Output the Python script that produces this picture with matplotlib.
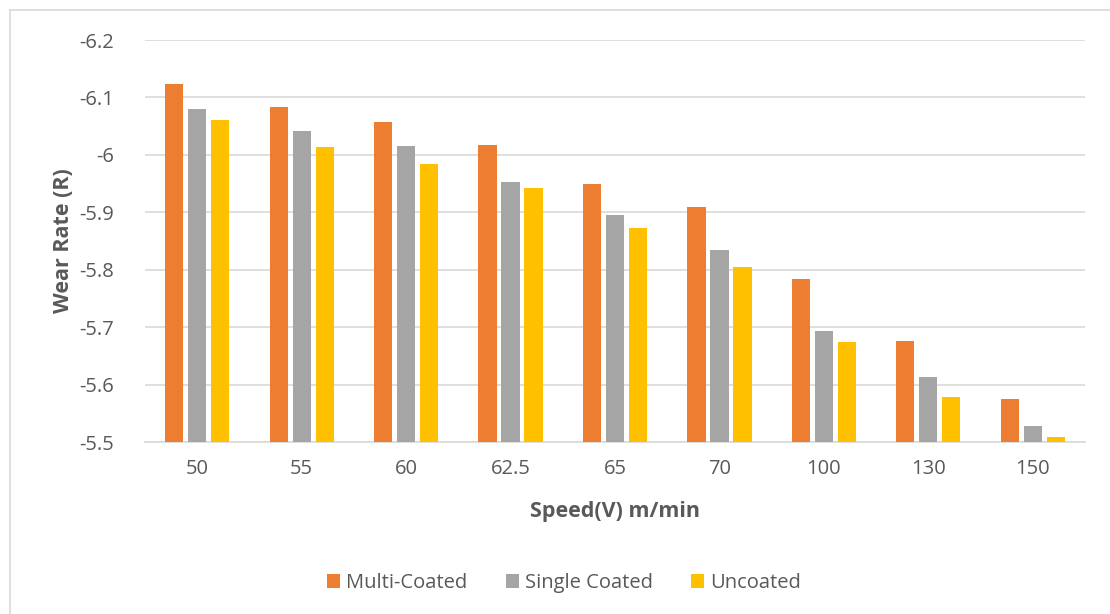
import matplotlib.pyplot as plt
from matplotlib.lines import Line2D
import numpy as np

speeds = ['50', '55', '60', '62.5', '65', '70', '100', '130', '150']
multi_coated = [-6.123, -6.083, -6.058, -6.017, -5.949, -5.909, -5.783, -5.676, -5.575]
single_coated = [-6.079, -6.042, -6.016, -5.952, -5.895, -5.835, -5.693, -5.613, -5.527]
uncoated = [-6.061, -6.014, -5.984, -5.942, -5.872, -5.805, -5.674, -5.578, -5.509]

series = [('Multi-Coated', multi_coated, '#ed7d31'),
          ('Single Coated', single_coated, '#a5a5a5'),
          ('Uncoated', uncoated, '#ffc000')]

plt.rcParams['font.family'] = ['Open Sans', 'DejaVu Sans']
txt = '#595959'
grid = '#d9d9d9'
base = -5.5

fig = plt.figure(figsize=(11.1, 6.14), dpi=100)
ax = fig.add_axes([145 / 1110, 1 - 442 / 614, 940 / 1110, 402 / 614])

x = np.arange(len(speeds))
w = 0.175
step = 0.22
for i, (name, vals, col) in enumerate(series):
    vals = np.array(vals)
    ax.bar(x + (i - 1) * step, vals - base, width=w, bottom=base,
           color=col, label=name, zorder=3)

ax.set_xlim(-0.5, len(speeds) - 0.5)
ax.set_ylim(-5.5, -6.2)
ax.set_yticks([-5.5, -5.6, -5.7, -5.8, -5.9, -6.0, -6.1, -6.2])
ax.set_yticklabels(['-5.5', '-5.6', '-5.7', '-5.8', '-5.9', '-6', '-6.1', '-6.2'])
ax.set_xticks(x)
ax.set_xticklabels(speeds)
ax.tick_params(axis='both', length=0, labelsize=14.5, labelcolor=txt)
ax.tick_params(axis='y', pad=22)
ax.tick_params(axis='x', pad=12)
ax.grid(axis='y', color=grid, linewidth=1.2, zorder=0)
for s in ['top', 'right', 'left']:
    ax.spines[s].set_visible(False)
ax.spines['bottom'].set_color(grid)
ax.spines['bottom'].set_linewidth(1.2)

ax.set_ylabel('Wear Rate (R)', fontsize=15.5, fontweight='bold', color=txt, labelpad=4)
ax.set_xlabel('Speed(V) m/min', fontsize=15.5, fontweight='bold', color=txt, labelpad=16)

fig.legend(loc='center', bbox_to_anchor=(0.508, 1 - 583 / 614), ncol=3, frameon=False,
           fontsize=14.5, labelcolor=txt, handlelength=0.65, handleheight=0.65,
           handletextpad=0.3, columnspacing=1.9)

fig.add_artist(Line2D([10 / 1110, 10 / 1110], [0, 1 - 10 / 614], color=grid,
                      linewidth=1.2, transform=fig.transFigure))
fig.add_artist(Line2D([10 / 1110, 1], [1 - 10 / 614, 1 - 10 / 614], color=grid,
                      linewidth=1.2, transform=fig.transFigure))

fig.savefig('out.png', dpi=100)
